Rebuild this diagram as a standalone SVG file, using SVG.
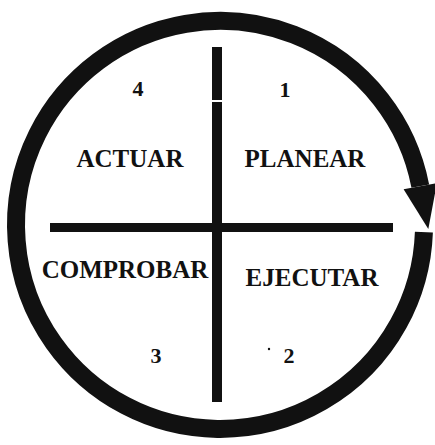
<svg xmlns="http://www.w3.org/2000/svg" width="435" height="445" viewBox="0 0 435 445">
<style>
.lbl{font-family:"Liberation Serif","Times New Roman",serif;font-weight:bold;font-size:25px;fill:#111;text-anchor:middle}
.num{font-family:"Liberation Serif","Times New Roman",serif;font-weight:bold;font-size:22px;fill:#111;text-anchor:middle}
.bar{fill:#111}
</style>
<rect width="435" height="445" fill="#fff"/>
<g id="connectors">
<path id="cycle" d="M423.9,232.1 A204,204 0 1 1 420.3,186.1" fill="none" stroke="#111" stroke-width="18"/>
<polygon id="arrowhead" points="403.6,189.3 437,183 428.3,229" fill="#111"/>
</g>
<g id="axes">
<rect class="bar" x="212" y="47" width="10" height="53"/>
<rect class="bar" x="212" y="102" width="10" height="300"/>
<rect class="bar" x="50" y="223" width="343" height="9"/>
</g>
<g id="node-planear">
<text class="num" x="285" y="97">1</text>
<text class="lbl" x="305" y="167">PLANEAR</text>
</g>
<g id="node-ejecutar">
<text class="lbl" x="312" y="286">EJECUTAR</text>
<circle cx="269" cy="349" r="1.2" fill="#111"/>
<text class="num" x="289" y="363">2</text>
</g>
<g id="node-comprobar">
<text class="lbl" x="125" y="278">COMPROBAR</text>
<text class="num" x="156" y="363">3</text>
</g>
<g id="node-actuar">
<text class="num" x="138" y="96">4</text>
<text class="lbl" x="130" y="167">ACTUAR</text>
</g>
</svg>
